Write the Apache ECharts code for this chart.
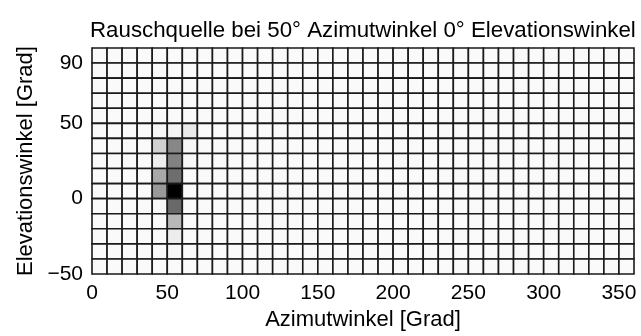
<!DOCTYPE html>
<html>
<head>
<meta charset="utf-8">
<script src="https://cdn.jsdelivr.net/npm/echarts@6/dist/echarts.min.js"></script>
<style>
html,body{margin:0;padding:0;background:#fff;}
#chart{width:641px;height:336px;}
</style>
</head>
<body>
<div id="chart"></div>
<script>
// Azimuth bin starts (degrees)
const azimuth = [0,10,20,30,40,50,60,70,80,90,100,110,120,130,140,150,160,170,180,190,200,210,220,230,240,250,260,270,280,290,300,310,320,330,340,350];
// Elevation bin starts (degrees), top row first
const elevation = [90,80,70,60,50,40,30,20,10,0,-10,-20,-30,-40,-50];
// Normalised intensity per cell (0 = white, 1 = black), rows follow `elevation`
const intensity = [
  [0.02,0.02,0.02,0.02,0.02,0.02,0.02,0.02,0.02,0.02,0.02,0.02,0.02,0.02,0.02,0.02,0.02,0.02,0.02,0.02,0.02,0.02,0.02,0.02,0.02,0.02,0.02,0.02,0.02,0.02,0.02,0.02,0.02,0.02,0.02,0.02],
  [0.02,0.02,0.02,0.02,0.02,0.02,0.02,0.02,0.02,0.02,0.02,0.02,0.02,0.02,0.02,0.02,0.02,0.02,0.02,0.02,0.02,0.02,0.02,0.02,0.02,0.02,0.02,0.02,0.02,0.02,0.02,0.02,0.02,0.02,0.02,0.02],
  [0.02,0.02,0.02,0.02,0.02,0.02,0.02,0.02,0.02,0.02,0.02,0.02,0.02,0.02,0.02,0.02,0.02,0.02,0.02,0.02,0.02,0.02,0.02,0.02,0.02,0.02,0.02,0.02,0.02,0.02,0.02,0.02,0.02,0.02,0.02,0.02],
  [0.02,0.02,0.02,0.02,0.02,0.02,0.02,0.02,0.02,0.02,0.02,0.02,0.02,0.02,0.02,0.02,0.02,0.02,0.02,0.02,0.02,0.02,0.02,0.02,0.02,0.02,0.02,0.02,0.02,0.02,0.02,0.02,0.02,0.02,0.02,0.02],
  [0.02,0.02,0.02,0.02,0.02,0.02,0.02,0.02,0.02,0.02,0.02,0.02,0.02,0.02,0.02,0.02,0.02,0.02,0.02,0.02,0.02,0.02,0.02,0.02,0.02,0.02,0.02,0.02,0.02,0.02,0.02,0.02,0.02,0.02,0.02,0.02],
  [0.02,0.02,0.02,0.02,0.03,0.04,0.09,0.02,0.02,0.02,0.02,0.02,0.02,0.02,0.02,0.02,0.02,0.02,0.02,0.02,0.02,0.02,0.02,0.02,0.02,0.02,0.02,0.02,0.02,0.02,0.02,0.02,0.02,0.02,0.02,0.02],
  [0.02,0.02,0.02,0.02,0.18,0.47,0.03,0.02,0.02,0.02,0.02,0.02,0.02,0.02,0.02,0.02,0.02,0.02,0.02,0.02,0.02,0.02,0.02,0.02,0.02,0.02,0.02,0.02,0.02,0.02,0.02,0.02,0.02,0.02,0.02,0.02],
  [0.02,0.02,0.02,0.02,0.07,0.49,0.03,0.02,0.02,0.02,0.02,0.02,0.02,0.02,0.02,0.02,0.02,0.02,0.02,0.02,0.02,0.02,0.02,0.02,0.02,0.02,0.02,0.02,0.02,0.02,0.02,0.02,0.02,0.02,0.02,0.02],
  [0.02,0.02,0.02,0.02,0.34,0.57,0.02,0.02,0.02,0.02,0.02,0.02,0.02,0.02,0.02,0.02,0.02,0.02,0.02,0.02,0.02,0.02,0.02,0.02,0.02,0.02,0.02,0.02,0.02,0.02,0.02,0.02,0.02,0.02,0.02,0.02],
  [0.02,0.02,0.02,0.02,0.40,1.00,0.02,0.02,0.02,0.02,0.02,0.02,0.02,0.02,0.02,0.02,0.02,0.02,0.02,0.02,0.02,0.02,0.02,0.02,0.02,0.02,0.02,0.02,0.02,0.02,0.02,0.02,0.02,0.02,0.02,0.02],
  [0.02,0.02,0.02,0.02,0.03,0.59,0.02,0.02,0.02,0.02,0.02,0.02,0.02,0.02,0.02,0.02,0.02,0.02,0.02,0.02,0.02,0.02,0.02,0.02,0.02,0.02,0.02,0.02,0.02,0.02,0.02,0.02,0.02,0.02,0.02,0.02],
  [0.02,0.02,0.02,0.02,0.02,0.28,0.02,0.02,0.02,0.02,0.02,0.02,0.02,0.02,0.02,0.02,0.02,0.02,0.02,0.02,0.02,0.02,0.02,0.02,0.02,0.02,0.02,0.02,0.02,0.02,0.02,0.02,0.02,0.02,0.02,0.02],
  [0.02,0.02,0.02,0.02,0.02,0.07,0.02,0.02,0.02,0.02,0.02,0.02,0.02,0.02,0.02,0.02,0.02,0.02,0.02,0.02,0.02,0.02,0.02,0.02,0.02,0.02,0.02,0.02,0.02,0.02,0.02,0.02,0.02,0.02,0.02,0.02],
  [0.02,0.02,0.02,0.02,0.02,0.03,0.02,0.02,0.02,0.02,0.02,0.02,0.02,0.02,0.02,0.02,0.02,0.02,0.02,0.02,0.02,0.02,0.02,0.02,0.02,0.02,0.02,0.02,0.02,0.02,0.02,0.02,0.02,0.02,0.02,0.02],
  [0.02,0.02,0.02,0.02,0.02,0.02,0.02,0.02,0.02,0.02,0.02,0.02,0.02,0.02,0.02,0.02,0.02,0.02,0.02,0.02,0.02,0.02,0.02,0.02,0.02,0.02,0.02,0.02,0.02,0.02,0.02,0.02,0.02,0.02,0.02,0.02]
];
const xTicks = [0,50,100,150,200,250,300,350];
const yTicks = [-50,0,50,90];
const binSize = 10;
const titleText = 'Rauschquelle bei 50° Azimutwinkel 0° Elevationswinkel';
const xName = 'Azimutwinkel [Grad]';
const yName = 'Elevationswinkel [Grad]';

const cells = [];
elevation.forEach(function (el, i) {
  azimuth.forEach(function (az, j) {
    cells.push([az, el, intensity[i][j]]);
  });
});

const FONT = '"Liberation Sans", Arial, Helvetica, sans-serif';
const fmt = function (v) { return v < 0 ? '\u2212' + Math.abs(v) : String(v); };

const chart = echarts.init(document.getElementById('chart'), null, {renderer: 'canvas'});
chart.setOption({
  animation: false,
  backgroundColor: '#ffffff',
  title: {
    text: titleText,
    left: 85,
    top: 15,
    textStyle: {fontFamily: FONT, fontSize: 22.3, fontWeight: 'normal', color: '#000'}
  },
  grid: {left: 92, top: 48, right: 7, bottom: 62, containLabel: false},
  visualMap: {
    type: 'continuous', show: false, min: 0, max: 1, dimension: 2, seriesIndex: 0,
    inRange: {color: ['#ffffff', '#000000']}
  },
  xAxis: {
    type: 'value', min: 0, max: 360,
    name: xName, nameLocation: 'middle', nameGap: 35,
    nameTextStyle: {fontFamily: FONT, fontSize: 22, color: '#000'},
    axisLine: {show: true, lineStyle: {color: '#000', width: 1}},
    axisTick: {show: false},
    splitLine: {show: false},
    axisLabel: {customValues: xTicks, formatter: fmt, margin: 9, fontFamily: FONT, fontSize: 21, color: '#000'}
  },
  yAxis: {
    type: 'value', min: -50, max: 100,
    name: yName, nameLocation: 'middle', nameGap: 55,
    nameTextStyle: {fontFamily: FONT, fontSize: 22, color: '#000'},
    axisLine: {show: true, lineStyle: {color: '#000', width: 1}},
    axisTick: {show: false},
    splitLine: {show: false},
    axisLabel: {customValues: yTicks, formatter: fmt, margin: 9, fontFamily: FONT, fontSize: 21, color: '#000'}
  },
  series: [{
    type: 'custom',
    data: cells,
    encode: {x: 0, y: 1},
    renderItem: function (params, api) {
      const x0 = api.value(0), y0 = api.value(1);
      const p0 = api.coord([x0, y0 + binSize]);
      const p1 = api.coord([x0 + binSize, y0]);
      return {
        type: 'rect',
        shape: {x: p0[0], y: p0[1], width: p1[0] - p0[0], height: p1[1] - p0[1]},
        style: {fill: api.visual('color'), stroke: '#1a1a1a', lineWidth: 1.6}
      };
    }
  }]
});
</script>
</body>
</html>
